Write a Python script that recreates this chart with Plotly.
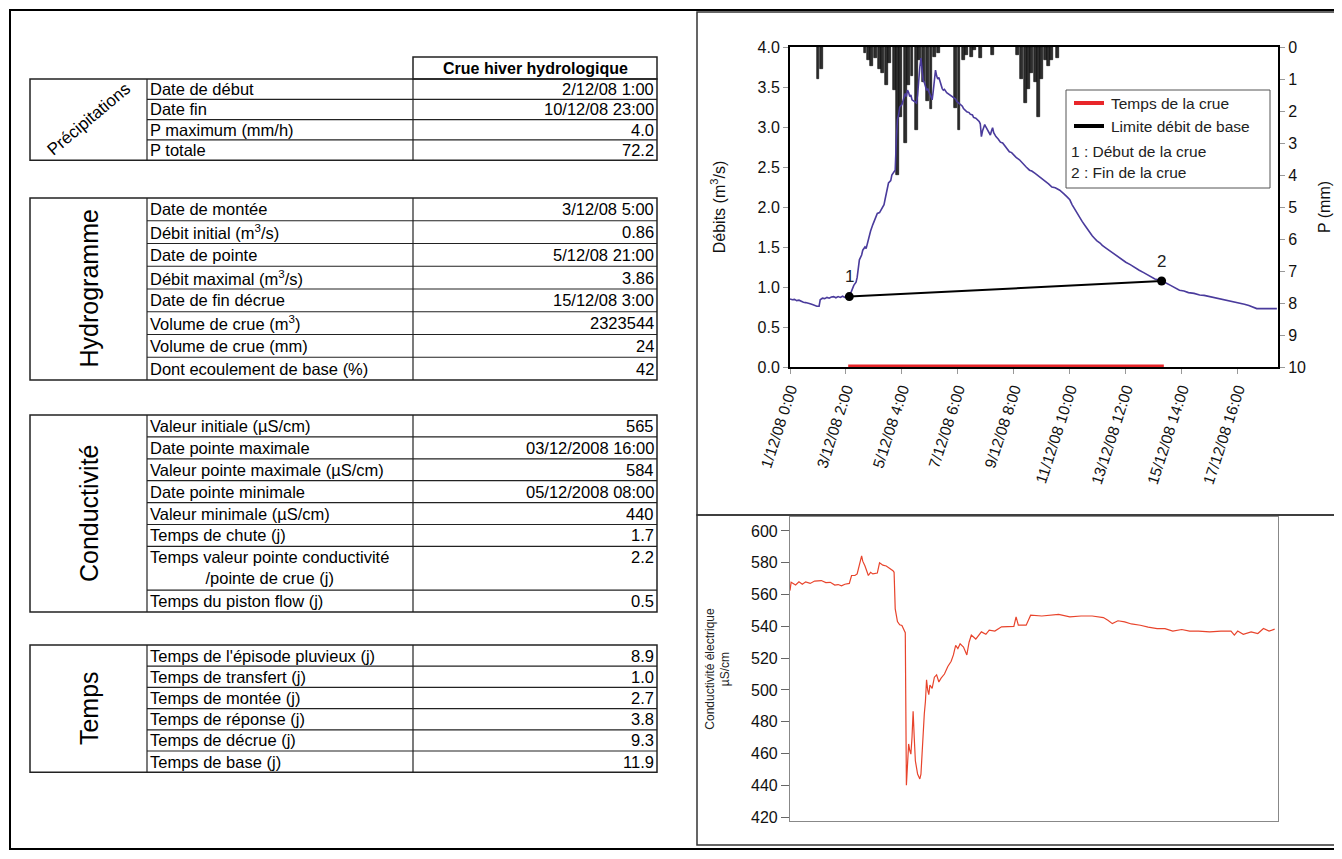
import plotly.graph_objects as go

W, H = 1342, 859
OX, OY = 8, 8  # page body margin of the html page


def px(x):
    return (x - OX) / W


def py(y):
    return 1 - (y - OY) / H


# ---------------- DATA ----------------
table_header = "Crue hiver hydrologique"

precip_labels = ["Date de début", "Date fin", "P maximum (mm/h)", "P totale"]
precip_values = ["2/12/08 1:00", "10/12/08 23:00", "4.0", "72.2"]

hydro_labels = ["Date de montée", "Débit initial (m<sup>3</sup>/s)", "Date de pointe",
                "Débit maximal (m<sup>3</sup>/s)", "Date de fin décrue",
                "Volume de crue (m<sup>3</sup>)", "Volume de crue (mm)",
                "Dont ecoulement de base (%)"]
hydro_values = ["3/12/08 5:00", "0.86", "5/12/08 21:00", "3.86", "15/12/08 3:00",
                "2323544", "24", "42"]

cond_labels = ["Valeur initiale (µS/cm)", "Date pointe maximale", "Valeur pointe maximale (µS/cm)",
               "Date pointe minimale", "Valeur minimale (µS/cm)", "Temps de chute (j)",
               "Temps valeur pointe conductivité<br>/pointe de crue (j)", "Temps du piston flow (j)"]
cond_values = ["565", "03/12/2008 16:00", "584", "05/12/2008 08:00", "440", "1.7", "2.2", "0.5"]
cond_units = [1, 1, 1, 1, 1, 1, 2, 1]

temps_labels = ["Temps de l'épisode pluvieux (j)", "Temps de transfert (j)", "Temps de montée (j)",
                "Temps de réponse (j)", "Temps de décrue (j)", "Temps de base (j)"]
temps_values = ["8.9", "1.0", "2.7", "3.8", "9.3", "11.9"]

# Rainfall (mm) – hanging bars
rain_times = ["2008-12-02 01:00", "2008-12-02 04:00",
              "2008-12-03 19:00", "2008-12-03 22:00", "2008-12-04 01:00", "2008-12-04 04:00",
              "2008-12-04 08:00", "2008-12-04 11:00", "2008-12-04 14:00", "2008-12-04 17:00",
              "2008-12-04 21:00", "2008-12-04 23:59", "2008-12-05 03:00", "2008-12-05 07:00",
              "2008-12-05 10:00", "2008-12-05 13:00", "2008-12-05 17:00", "2008-12-05 20:00",
              "2008-12-05 23:00", "2008-12-06 03:00", "2008-12-06 06:00", "2008-12-06 09:00",
              "2008-12-06 13:00", "2008-12-07 04:00", "2008-12-07 07:00", "2008-12-07 11:00",
              "2008-12-07 14:00", "2008-12-07 18:00", "2008-12-07 21:00", "2008-12-08 02:00",
              "2008-12-08 13:00", "2008-12-09 11:00", "2008-12-09 15:00", "2008-12-09 18:00",
              "2008-12-09 21:00", "2008-12-10 00:00", "2008-12-10 03:00", "2008-12-10 06:00",
              "2008-12-10 09:00", "2008-12-10 12:00", "2008-12-10 15:00", "2008-12-10 18:00",
              "2008-12-10 23:00"]
rain_mm = [1.0, 0.7,
           0.2, 0.4, 0.6, 0.35,
           0.7, 0.8, 1.2, 0.5,
           1.35, 4.0, 2.2, 3.0,
           1.2, 0.9, 2.6, 0.4,
           1.1, 1.7, 1.95, 0.3,
           0.2, 1.9, 2.6, 0.4,
           0.25, 0.3, 0.1, 0.35,
           0.25, 0.25, 1.0, 1.75,
           1.3, 0.8, 1.1, 2.2,
           1.0, 0.4, 0.6, 0.4,
           0.35]

# Discharge (m3/s)
q_times = ["2008-12-01 00:00", "2008-12-01 02:00", "2008-12-01 04:00", "2008-12-01 06:00",
           "2008-12-01 08:00", "2008-12-01 10:00", "2008-12-01 12:00", "2008-12-01 14:00",
           "2008-12-01 16:00", "2008-12-01 18:00", "2008-12-01 20:00", "2008-12-01 22:00",
           "2008-12-02 00:00", "2008-12-02 02:00", "2008-12-02 03:00", "2008-12-02 05:00",
           "2008-12-02 07:00", "2008-12-02 09:00", "2008-12-02 11:00", "2008-12-02 13:00",
           "2008-12-02 15:00", "2008-12-02 17:00", "2008-12-02 19:00", "2008-12-02 21:00",
           "2008-12-02 23:00", "2008-12-03 01:00", "2008-12-03 03:00", "2008-12-03 05:00",
           "2008-12-03 07:00", "2008-12-03 09:00", "2008-12-03 11:00", "2008-12-03 12:00",
           "2008-12-03 14:00", "2008-12-03 16:00", "2008-12-03 17:00", "2008-12-03 19:00",
           "2008-12-03 20:00", "2008-12-03 22:00", "2008-12-04 00:00", "2008-12-04 02:00",
           "2008-12-04 04:00", "2008-12-04 05:00", "2008-12-04 06:00", "2008-12-04 08:00",
           "2008-12-04 10:00", "2008-12-04 12:00", "2008-12-04 13:00", "2008-12-04 15:00",
           "2008-12-04 16:00", "2008-12-04 18:00", "2008-12-04 19:00", "2008-12-04 21:00",
           "2008-12-04 22:00", "2008-12-04 23:00", "2008-12-05 00:00", "2008-12-05 01:00",
           "2008-12-05 02:00", "2008-12-05 04:00", "2008-12-05 05:00", "2008-12-05 06:00",
           "2008-12-05 07:00", "2008-12-05 08:00", "2008-12-05 09:00", "2008-12-05 10:00",
           "2008-12-05 11:00", "2008-12-05 12:00", "2008-12-05 13:00", "2008-12-05 15:00",
           "2008-12-05 17:00", "2008-12-05 18:00", "2008-12-05 19:00", "2008-12-05 20:00",
           "2008-12-05 21:00", "2008-12-05 22:00", "2008-12-05 23:00", "2008-12-06 00:00",
           "2008-12-06 01:00", "2008-12-06 02:00", "2008-12-06 03:00", "2008-12-06 05:00",
           "2008-12-06 06:00", "2008-12-06 07:00", "2008-12-06 08:00", "2008-12-06 09:00",
           "2008-12-06 10:00", "2008-12-06 11:00", "2008-12-06 12:00", "2008-12-06 13:00",
           "2008-12-06 15:00", "2008-12-06 16:00", "2008-12-06 17:00", "2008-12-06 18:00",
           "2008-12-06 20:00", "2008-12-06 21:00", "2008-12-06 23:00", "2008-12-07 01:00",
           "2008-12-07 02:00", "2008-12-07 04:00", "2008-12-07 05:00", "2008-12-07 07:00",
           "2008-12-07 08:00", "2008-12-07 10:00", "2008-12-07 11:00", "2008-12-07 13:00",
           "2008-12-07 14:00", "2008-12-07 16:00", "2008-12-07 17:00", "2008-12-07 19:00",
           "2008-12-07 20:00", "2008-12-07 22:00", "2008-12-08 00:00", "2008-12-08 01:00",
           "2008-12-08 02:00", "2008-12-08 03:00", "2008-12-08 04:00", "2008-12-08 05:00",
           "2008-12-08 06:00", "2008-12-08 07:00", "2008-12-08 09:00", "2008-12-08 10:00",
           "2008-12-08 11:00", "2008-12-08 12:00", "2008-12-08 13:00", "2008-12-08 14:00",
           "2008-12-08 16:00", "2008-12-08 18:00", "2008-12-08 20:00", "2008-12-08 22:00",
           "2008-12-09 00:00", "2008-12-09 02:00", "2008-12-09 04:00", "2008-12-09 06:00",
           "2008-12-09 08:00", "2008-12-09 10:00", "2008-12-09 13:00", "2008-12-09 15:00",
           "2008-12-09 17:00", "2008-12-09 19:00", "2008-12-09 22:00", "2008-12-10 00:00",
           "2008-12-10 03:00", "2008-12-10 05:00", "2008-12-10 07:00", "2008-12-10 09:00",
           "2008-12-10 12:00", "2008-12-10 15:00", "2008-12-10 18:00", "2008-12-10 21:00",
           "2008-12-11 01:00", "2008-12-11 03:00", "2008-12-11 05:00", "2008-12-11 08:00",
           "2008-12-11 10:00", "2008-12-11 12:00", "2008-12-11 14:00", "2008-12-11 16:00",
           "2008-12-11 19:00", "2008-12-11 21:00", "2008-12-12 00:00", "2008-12-12 02:00",
           "2008-12-12 04:00", "2008-12-12 06:00", "2008-12-12 08:00", "2008-12-12 10:00",
           "2008-12-12 13:00", "2008-12-12 15:00", "2008-12-12 18:00", "2008-12-12 20:00",
           "2008-12-12 22:00", "2008-12-13 01:00", "2008-12-13 04:00", "2008-12-13 06:00",
           "2008-12-13 09:00", "2008-12-13 12:00", "2008-12-13 16:00", "2008-12-13 20:00",
           "2008-12-14 00:00", "2008-12-14 04:00", "2008-12-14 08:00", "2008-12-14 11:00",
           "2008-12-14 14:00", "2008-12-14 17:00", "2008-12-14 20:00", "2008-12-15 00:00",
           "2008-12-15 04:00", "2008-12-15 08:00", "2008-12-15 12:00", "2008-12-15 16:00",
           "2008-12-15 20:00", "2008-12-16 01:00", "2008-12-16 06:00", "2008-12-16 10:00",
           "2008-12-16 15:00", "2008-12-16 20:00", "2008-12-17 00:00", "2008-12-17 05:00",
           "2008-12-17 09:00", "2008-12-17 14:00", "2008-12-17 18:00", "2008-12-17 22:00",
           "2008-12-18 02:00", "2008-12-18 06:00", "2008-12-18 09:00", "2008-12-18 16:00",
           "2008-12-19 03:00"]
q_vals = [0.85, 0.84, 0.845, 0.83, 0.835, 0.82, 0.81, 0.805,
          0.80, 0.79, 0.78, 0.77, 0.76, 0.76, 0.84, 0.86,
          0.855, 0.87, 0.86, 0.875, 0.88, 0.865, 0.88, 0.87,
          0.885, 0.87, 0.88, 0.88, 0.96, 1.02, 1.06, 1.12,
          1.34, 1.40, 1.46, 1.50, 1.48, 1.61, 1.70, 1.78,
          1.86, 1.89, 1.92, 1.93, 1.98, 2.03, 2.10, 2.25,
          2.30, 2.33, 2.40, 2.44, 2.46, 2.84, 3.09, 3.15,
          3.25, 3.28, 3.32, 3.36, 3.42, 3.38, 3.46, 3.43,
          3.38, 3.40, 3.34, 3.32, 3.30, 3.40, 3.60, 3.75,
          3.86, 3.66, 3.58, 3.56, 3.50, 3.46, 3.48, 3.40,
          3.36, 3.34, 3.45, 3.60, 3.71, 3.64, 3.60, 3.62,
          3.52, 3.48, 3.46, 3.47, 3.43, 3.42, 3.40, 3.38,
          3.36, 3.35, 3.32, 3.30, 3.28, 3.26, 3.23, 3.20,
          3.19, 3.18, 3.16, 3.15, 3.12, 3.11, 3.09, 3.07,
          3.04, 2.88, 2.95, 2.98, 3.03, 3.00, 2.94, 2.92,
          2.90, 2.95, 2.99, 2.93, 2.88, 2.85, 2.81, 2.80,
          2.76, 2.73, 2.69, 2.68, 2.65, 2.62, 2.59, 2.56,
          2.52, 2.50, 2.46, 2.45, 2.42, 2.40, 2.38, 2.36,
          2.32, 2.29, 2.25, 2.24, 2.21, 2.19, 2.16, 2.12,
          2.09, 2.03, 1.98, 1.93, 1.86, 1.82, 1.76, 1.72,
          1.67, 1.64, 1.61, 1.58, 1.55, 1.52, 1.49, 1.47,
          1.44, 1.41, 1.38, 1.37, 1.34, 1.31, 1.28, 1.24,
          1.21, 1.18, 1.15, 1.12, 1.10, 1.09, 1.075, 1.05,
          1.02, 0.99, 0.96, 0.95, 0.93, 0.92, 0.90, 0.895,
          0.88, 0.87, 0.86, 0.845, 0.83, 0.815, 0.80, 0.785,
          0.77, 0.75, 0.73, 0.73, 0.73]

# Base-flow separation line (points 1 and 2)
base_times = ["2008-12-03 05:00", "2008-12-14 20:00"]
base_vals = [0.88, 1.075]
base_labels = ["1", "2"]

# Flood duration (red bar on the time axis)
crue_times = ["2008-12-03 04:00", "2008-12-14 22:00"]
crue_vals = [0, 0]

# Electrical conductivity (µS/cm)
ec_times = ["2008-12-01 00:00", "2008-12-01 01:00", "2008-12-01 05:00", "2008-12-01 08:00",
            "2008-12-01 11:00", "2008-12-01 14:00", "2008-12-01 18:00", "2008-12-01 22:00",
            "2008-12-02 04:00", "2008-12-02 08:00", "2008-12-02 12:00", "2008-12-02 16:00",
            "2008-12-02 19:00", "2008-12-02 22:00", "2008-12-03 01:00", "2008-12-03 05:00",
            "2008-12-03 07:00", "2008-12-03 10:00", "2008-12-03 12:00", "2008-12-03 13:00",
            "2008-12-03 16:00", "2008-12-03 17:00", "2008-12-03 19:00", "2008-12-03 22:00",
            "2008-12-04 00:00", "2008-12-04 02:00", "2008-12-04 06:00", "2008-12-04 08:00",
            "2008-12-04 11:00", "2008-12-04 14:00", "2008-12-04 16:00", "2008-12-04 18:00",
            "2008-12-04 20:00", "2008-12-04 21:00", "2008-12-04 22:00", "2008-12-05 00:00",
            "2008-12-05 02:00", "2008-12-05 04:00", "2008-12-05 07:00", "2008-12-05 08:00",
            "2008-12-05 10:00", "2008-12-05 11:00", "2008-12-05 12:00", "2008-12-05 13:00",
            "2008-12-05 14:00", "2008-12-05 15:00", "2008-12-05 16:00", "2008-12-05 18:00",
            "2008-12-05 20:00", "2008-12-05 21:00", "2008-12-05 22:00", "2008-12-05 23:00",
            "2008-12-06 00:00", "2008-12-06 01:00", "2008-12-06 02:00", "2008-12-06 03:00",
            "2008-12-06 04:00", "2008-12-06 05:00", "2008-12-06 07:00", "2008-12-06 09:00",
            "2008-12-06 11:00", "2008-12-06 13:00", "2008-12-06 15:00", "2008-12-06 18:00",
            "2008-12-06 21:00", "2008-12-07 00:00", "2008-12-07 02:00", "2008-12-07 04:00",
            "2008-12-07 06:00", "2008-12-07 08:00", "2008-12-07 11:00", "2008-12-07 14:00",
            "2008-12-07 16:00", "2008-12-07 18:00", "2008-12-07 22:00", "2008-12-08 03:00",
            "2008-12-08 07:00", "2008-12-08 10:00", "2008-12-08 15:00", "2008-12-08 21:00",
            "2008-12-09 03:00", "2008-12-09 08:00", "2008-12-09 10:00", "2008-12-09 12:00",
            "2008-12-09 19:00", "2008-12-09 23:00", "2008-12-10 09:00", "2008-12-10 19:00",
            "2008-12-11 00:00", "2008-12-11 10:00", "2008-12-11 20:00", "2008-12-12 06:00",
            "2008-12-12 16:00", "2008-12-12 20:00", "2008-12-13 00:00", "2008-12-13 05:00",
            "2008-12-13 11:00", "2008-12-13 17:00", "2008-12-14 01:00", "2008-12-14 08:00",
            "2008-12-14 16:00", "2008-12-14 23:00", "2008-12-15 06:00", "2008-12-15 14:00",
            "2008-12-15 21:00", "2008-12-16 05:00", "2008-12-16 15:00", "2008-12-17 01:00",
            "2008-12-17 10:00", "2008-12-17 13:00", "2008-12-17 16:00", "2008-12-17 21:00",
            "2008-12-18 04:00", "2008-12-18 10:00", "2008-12-18 15:00", "2008-12-18 20:00",
            "2008-12-19 01:00"]
ec_vals = [562.5, 567.7, 566.0, 568.0, 566.5, 568.0, 567.0, 568.5,
           568.8, 567.5, 567.7, 566.0, 566.3, 565.5, 566.5, 567.0,
           572.0, 572.0, 573.0, 576.0, 584.4, 581.0, 578.0, 572.0,
           574.0, 573.0, 573.5, 580.0, 578.5, 578.0, 577.0, 576.5,
           575.0, 574.0, 551.0, 543.0, 541.0, 540.5, 536.0, 440.0,
           466.0, 462.0, 459.6, 470.0, 486.6, 470.0, 455.4, 447.0,
           444.0, 447.0, 460.0, 476.0, 485.0, 492.8, 506.4, 500.0,
           497.0, 503.0, 501.0, 508.0, 509.5, 505.0, 507.4, 510.0,
           514.7, 518.0, 522.0, 528.0, 526.0, 529.0, 527.0, 522.0,
           530.0, 534.5, 532.0, 536.5, 535.0, 537.6, 537.0, 539.7,
           540.0, 540.0, 546.0, 540.7, 540.7, 547.0, 546.5, 547.0,
           547.5, 546.0, 546.5, 546.5, 545.5, 543.8, 541.7, 543.5,
           542.8, 541.5, 540.7, 539.5, 538.6, 538.5, 537.0, 538.0,
           537.0, 537.0, 536.5, 537.0, 537.0, 534.5, 537.0, 535.0,
           536.5, 535.5, 538.6, 537.0, 538.2]

x_range = ["2008-12-01 00:00", "2008-12-19 04:00"]

# ---------------- FIGURE ----------------
FONT = "Liberation Sans"
fig = go.Figure()

fig.add_trace(go.Bar(x=rain_times, y=rain_mm, xaxis="x", yaxis="y",
                     width=2.6 * 3600 * 1000,
                     marker=dict(color="#2e2e2e", line=dict(color="#000", width=0.6)),
                     showlegend=False, hoverinfo="skip"))
fig.add_trace(go.Scatter(x=q_times, y=q_vals, xaxis="x", yaxis="y2", mode="lines",
                         line=dict(color="#4a3b9c", width=1.6), showlegend=False))
fig.add_trace(go.Scatter(x=base_times, y=base_vals, xaxis="x", yaxis="y2", mode="lines+markers",
                         line=dict(color="#000", width=2), marker=dict(color="#000", size=9),
                         showlegend=False))
fig.add_trace(go.Scatter(x=crue_times, y=crue_vals, xaxis="x", yaxis="y2", mode="lines",
                         line=dict(color="#e8262a", width=5), cliponaxis=False, showlegend=False))
fig.add_trace(go.Scatter(x=ec_times, y=ec_vals, xaxis="x2", yaxis="y3", mode="lines",
                         line=dict(color="#e8442c", width=1.2), showlegend=False))

annotations = []
shapes = []

for t, v, lab in zip(base_times, base_vals, base_labels):
    annotations.append(dict(x=t, y=v, xref="x", yref="y2", text=lab, showarrow=False,
                            yshift=20, font=dict(family=FONT, size=17, color="#222")))


def line(x0, y0, x1, y1, color="#222", width=1):
    shapes.append(dict(type="line", xref="paper", yref="paper", x0=px(x0), y0=py(y0),
                       x1=px(x1), y1=py(y1), line=dict(color=color, width=width)))


def rect(x0, y0, x1, y1, color="#222", width=1.5):
    shapes.append(dict(type="rect", xref="paper", yref="paper", x0=px(x0), y0=py(y0),
                       x1=px(x1), y1=py(y1), line=dict(color=color, width=width)))


def text(x, y, s, size=14.5, xanchor="left", yanchor="middle", angle=0, color="#000"):
    annotations.append(dict(x=px(x), y=py(y), xref="paper", yref="paper", text=s,
                            showarrow=False, xanchor=xanchor, yanchor=yanchor, textangle=angle,
                            font=dict(family=FONT, size=size, color=color), borderpad=0))


# Tables
G0, G1, C1, C2 = 30, 147, 413, 657
TFS = 16.5


def add_table(group, labels, values, top, row_h, units=None, g_angle=-90, g_size=25):
    if units is None:
        units = [1] * len(labels)
    bottom = top + row_h * sum(units)
    rect(G0, top, C2, bottom)
    line(G1, top, G1, bottom, width=1.2)
    line(C1, top, C1, bottom, width=1.2)
    y = top
    for i, (lab, val, u) in enumerate(zip(labels, values, units)):
        y0, y1 = y, y + u * row_h
        if i > 0:
            line(G1, y0, C2, y0, width=1.2)
        if u == 1:
            text(G1 + 2, (y0 + y1) / 2, lab, TFS)
            text(C2 - 2, (y0 + y1) / 2, val, TFS, xanchor="right")
        else:
            text(G1 + 2, y0 + 1, lab, TFS, yanchor="top")
            text(C2 - 2, y0 + 1, val, TFS, xanchor="right", yanchor="top")
        y = y1
    text((G0 + G1) / 2, (top + bottom) / 2, group, g_size, xanchor="center", angle=g_angle)


rect(C1, 57, C2, 79)
text((C1 + C2) / 2, 68, "<b>" + table_header + "</b>", 16, xanchor="center")
add_table("Précipitations", precip_labels, precip_values, 79, 20.3, g_angle=-40, g_size=17)
add_table("Hydrogramme", hydro_labels, hydro_values, 198, 22.75)
add_table("Conductivité", cond_labels, cond_values, 415, 21.9, units=cond_units)
add_table("Temps", temps_labels, temps_values, 645, 21.2)

# Frames
rect(10, 10, 1340, 849, color="#000", width=2)
rect(697, 12, 1340, 515, color="#333", width=1.5)
rect(697, 515, 1340, 845, color="#333", width=1.5)

# Legend (top chart)
LFS = 15.5
rect(1066, 90, 1270, 188, color="#555", width=1)
line(1074, 103, 1104, 103, color="#e8262a", width=4)
text(1110, 103, "Temps de la crue", LFS, color="#222")
line(1074, 126, 1104, 126, color="#000", width=4)
text(1110, 126, "Limite débit de base", LFS, color="#222")
text(1070, 151, "1 : Début de la crue", LFS, color="#222")
text(1070, 173, "2 : Fin de la crue", LFS, color="#222")

TICKF = dict(family=FONT, size=16, color="#111")
xdom = [px(790), px(1278)]

fig.update_layout(
    width=W, height=H, margin=dict(l=0, r=0, t=0, b=0, pad=0, autoexpand=False),
    paper_bgcolor="white", plot_bgcolor="white",
    showlegend=False,
    xaxis=dict(domain=xdom, anchor="y", type="date", range=x_range, automargin=False,
               tick0="2008-12-01 00:00", dtick=50 * 3600 * 1000,
               tickformat="%-d/%m/%y %-H:%M", tickangle=-72,
               tickfont=dict(family=FONT, size=15.5, color="#111"),
               showline=True, linecolor="#000", linewidth=2, mirror=True,
               ticks="outside", ticklen=5, tickcolor="#999", showgrid=False, zeroline=False),
    yaxis=dict(domain=[py(367), py(47)], anchor="x", side="right", range=[10, 0], dtick=1,
               automargin=False,
               tickfont=TICKF, showline=True, linecolor="#000", linewidth=2,
               ticks="outside", ticklen=5, tickcolor="#999", showgrid=False, zeroline=False,
               title=dict(text="P (mm)", font=dict(family=FONT, size=16, color="#111"), standoff=14)),
    yaxis2=dict(overlaying="y", anchor="x", side="left", range=[0, 4], dtick=0.5, tickformat=".1f",
                automargin=False,
                tickfont=TICKF, showline=True, linecolor="#000", linewidth=2,
                ticks="outside", ticklen=5, tickcolor="#999", showgrid=False, zeroline=False,
                title=dict(text="Débits (m<sup>3</sup>/s)", font=dict(family=FONT, size=16, color="#111"),
                           standoff=28)),
    xaxis2=dict(domain=xdom, anchor="y3", type="date", range=x_range, showticklabels=False,
                automargin=False,
                showline=True, linecolor="#888", linewidth=1.2, mirror=True, ticks="",
                showgrid=False, zeroline=False),
    yaxis3=dict(domain=[py(821), py(517)], anchor="x2", range=[417.5, 608.8], tick0=420, dtick=20,
                automargin=False,
                tickfont=dict(family=FONT, size=16, color="#111"),
                showline=True, linecolor="#888", linewidth=1.2, mirror=True,
                ticks="outside", ticklen=8, tickcolor="#666", showgrid=False, zeroline=False,
                title=dict(text="Conductivité électrique<br>µS/cm",
                           font=dict(family=FONT, size=12, color="#222"), standoff=18)),
    shapes=shapes,
    annotations=annotations,
    bargap=0,
)

fig.write_html("out.html")
